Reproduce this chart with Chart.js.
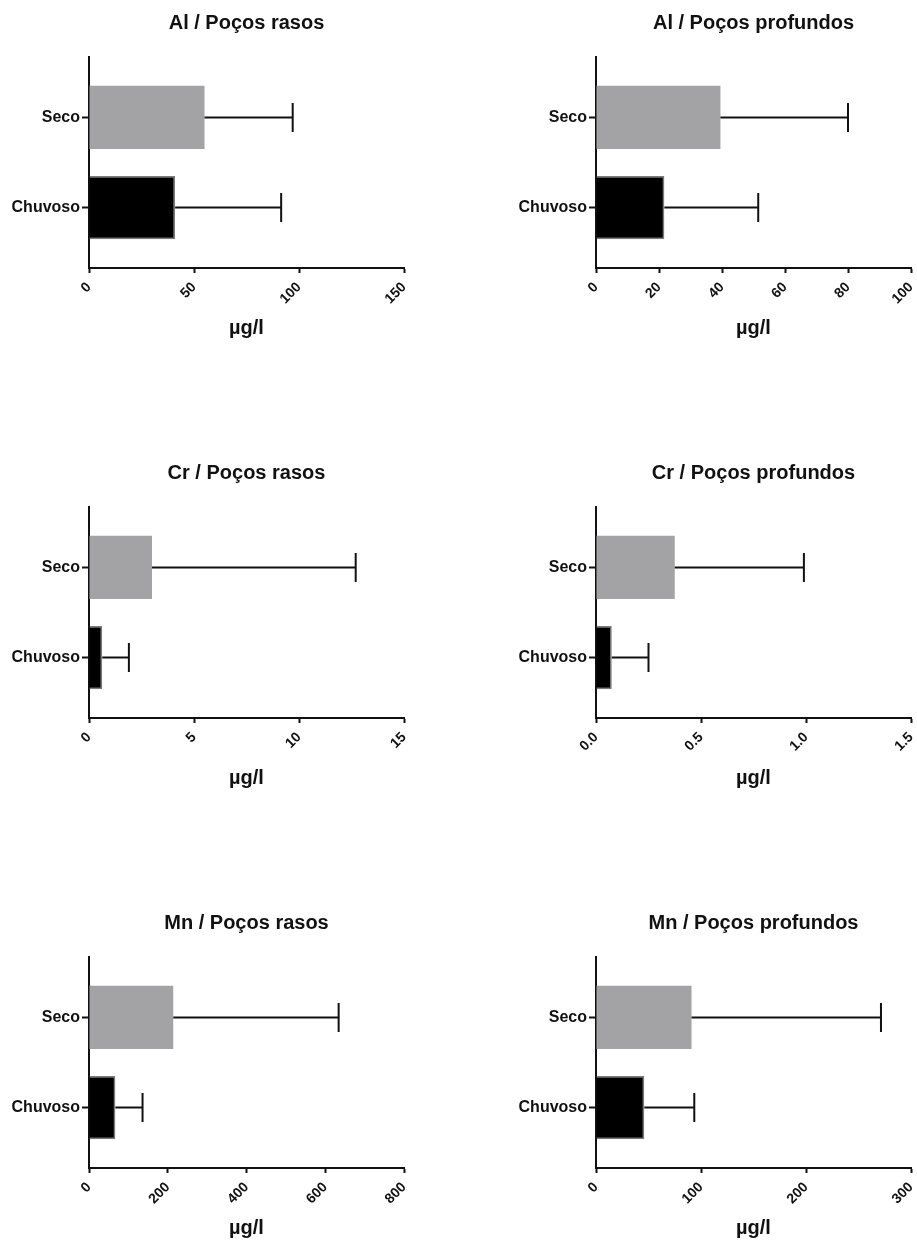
<!DOCTYPE html>
<html>
<head>
<meta charset="utf-8">
<script src="https://cdn.jsdelivr.net/npm/chart.js@4/dist/chart.umd.min.js"></script>
<style>
  html, body { margin: 0; padding: 0; background: #ffffff; overflow: hidden; }
  #grade { position: relative; width: 917px; height: 1246px; background: #ffffff; overflow: hidden; }
  .painel { position: absolute; }
</style>
</head>
<body>
<div id="grade"></div>
<script>
// Períodos (categorias do eixo vertical)
const categorias = ['Seco', 'Chuvoso'];
const coresBarras = ['#a3a3a5', '#000000'];

// Títulos dos painéis
const titulos = [
  'Al / Poços rasos', 'Al / Poços profundos',
  'Cr / Poços rasos', 'Cr / Poços profundos',
  'Mn / Poços rasos', 'Mn / Poços profundos'
];

// Médias (µg/l) por período: [Seco, Chuvoso]
const alRasosMedia = [55, 41];
const alProfundosMedia = [39.5, 21.7];
const crRasosMedia = [3.0, 0.63];
const crProfundosMedia = [0.375, 0.075];
const mnRasosMedia = [214, 67];
const mnProfundosMedia = [91, 46];

// Desvios-padrão (µg/l) por período: [Seco, Chuvoso]
const alRasosDP = [42, 50.5];
const alProfundosDP = [40.5, 29.8];
const crRasosDP = [9.7, 1.27];
const crProfundosDP = [0.615, 0.175];
const mnRasosDP = [420, 69];
const mnProfundosDP = [180.4, 47.6];

// Eixo dos valores: máximo, passo e casas decimais dos rótulos
const eixoMax = [150, 100, 15, 1.5, 800, 300];
const eixoPasso = [50, 20, 5, 0.5, 200, 100];
const eixoDecimais = [0, 0, 0, 1, 0, 0];
const rotuloEixo = 'µg/l';

const medias = [alRasosMedia, alProfundosMedia, crRasosMedia, crProfundosMedia, mnRasosMedia, mnProfundosMedia];
const desvios = [alRasosDP, alProfundosDP, crRasosDP, crProfundosDP, mnRasosDP, mnProfundosDP];

const fonte = '"Liberation Sans", Arial, Helvetica, sans-serif';
const preto = '#111111';
// folga do eixo de categorias acima da primeira e abaixo da última barra
const folga = 0.67;

const grade = document.getElementById('grade');

for (let p = 0; p < 6; p++) {
  const col = p % 2;
  const lin = Math.floor(p / 2);
  const largura = col === 0 ? 458 : 471;
  const altura = lin === 2 ? 346 : 450;

  const canvas = document.createElement('canvas');
  canvas.className = 'painel';
  canvas.style.left = (col === 0 ? 0 : 458) + 'px';
  canvas.style.top = (lin * 450) + 'px';
  canvas.style.width = largura + 'px';
  canvas.style.height = altura + 'px';
  canvas.width = largura;
  canvas.height = altura;
  grade.appendChild(canvas);

  const datasets = [{
    type: 'bar',
    data: categorias.map((c, i) => ({ y: i, x: medias[p][i] })),
    backgroundColor: coresBarras,
    borderColor: ['#a3a3a5', '#7a7a7a'],
    borderWidth: [0, 1.5],
    borderSkipped: 'start',
    categoryPercentage: 1,
    barPercentage: 0.7,
    order: 2
  }];

  // Barras de erro: da média até média + DP, com traço final vertical
  categorias.forEach((c, i) => {
    datasets.push({
      type: 'line',
      data: [{ x: medias[p][i], y: i }, { x: medias[p][i] + desvios[p][i], y: i }],
      borderColor: preto,
      borderWidth: 2,
      pointRadius: [0, 14.5],
      pointStyle: 'line',
      rotation: 90,
      pointBorderColor: preto,
      pointBorderWidth: 2,
      fill: false,
      order: 1
    });
  });

  const dec = eixoDecimais[p];

  new Chart(canvas, {
    type: 'bar',
    data: { datasets },
    options: {
      indexAxis: 'y',
      responsive: false,
      animation: false,
      events: [],
      layout: {
        padding: {
          top: 11,
          left: col === 0 ? 9 : 58,
          right: col === 0 ? 54 : 18,
          bottom: altura - 340
        }
      },
      plugins: {
        legend: { display: false },
        tooltip: { enabled: false },
        title: {
          display: true,
          text: titulos[p],
          fullSize: false,
          color: preto,
          font: { family: fonte, size: 20, weight: 'bold' },
          padding: { top: 0, bottom: 22 }
        }
      },
      scales: {
        x: {
          type: 'linear',
          position: 'bottom',
          min: 0,
          max: eixoMax[p],
          afterFit: (s) => { s.height = 72; },
          ticks: {
            stepSize: eixoPasso[p],
            autoSkip: false,
            minRotation: 45,
            maxRotation: 45,
            padding: 6,
            color: preto,
            font: { family: fonte, size: 14, weight: 'bold' },
            callback: (v) => Number(v).toFixed(dec)
          },
          grid: {
            drawOnChartArea: false,
            drawTicks: true,
            tickLength: 5,
            tickWidth: 2,
            tickColor: preto,
            color: preto
          },
          border: { display: true, color: preto, width: 2 },
          title: {
            display: true,
            text: rotuloEixo,
            color: preto,
            font: { family: fonte, size: 20, weight: 'bold' },
            padding: { top: 0, bottom: 0 }
          }
        },
        y: {
          type: 'linear',
          position: 'left',
          reverse: true,
          bounds: 'data',
          offset: false,
          afterDataLimits: (s) => { s.min = -folga; s.max = categorias.length - 1 + folga; },
          afterBuildTicks: (s) => { s.ticks = categorias.map((c, i) => ({ value: i })); },
          afterFit: (s) => { s.width = 80; },
          ticks: {
            autoSkip: false,
            padding: 2,
            color: preto,
            font: { family: fonte, size: 16, weight: 'bold' },
            callback: (v) => categorias[v] !== undefined ? categorias[v] : ''
          },
          grid: {
            offset: false,
            drawOnChartArea: false,
            drawTicks: true,
            tickLength: 7,
            tickWidth: 2,
            tickColor: preto,
            color: preto
          },
          border: { display: true, color: preto, width: 2 }
        }
      }
    }
  });
}
</script>
</body>
</html>
